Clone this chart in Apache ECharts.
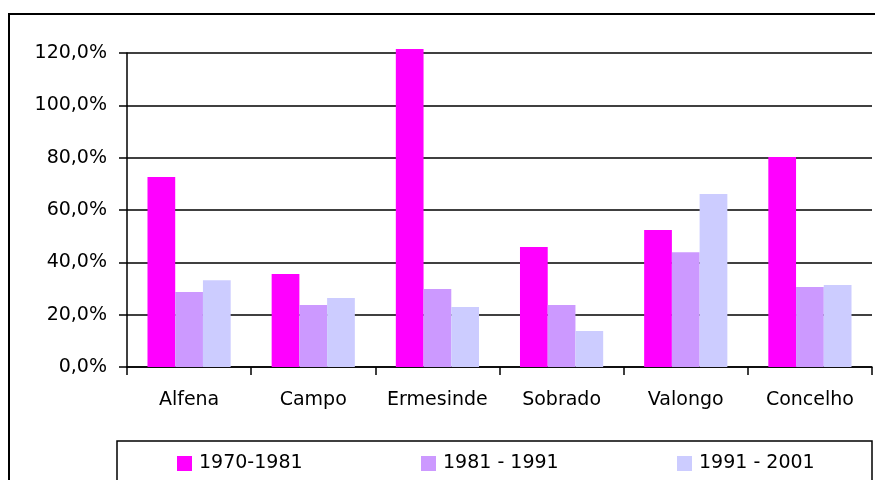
<!DOCTYPE html>
<html>
<head>
<meta charset="utf-8">
<script src="https://cdn.jsdelivr.net/npm/echarts@6/dist/echarts.min.js"></script>
<style>
html,body{margin:0;padding:0;background:#fff;}
#main{width:875px;height:480px;}
</style>
</head>
<body>
<div id="main"></div>
<script>
var categories=['Alfena','Campo','Ermesinde','Sobrado','Valongo','Concelho'];
var series_names=['1970-1981','1981 - 1991','1991 - 2001'];
var v1970_1981=[72.6,35.5,121.5,45.9,52.4,80.3];
var v1981_1991=[28.7,23.7,29.8,23.7,43.9,30.6];
var v1991_2001=[33.2,26.4,22.9,13.8,66.1,31.3];
var colors=['#FF00FF','#CC99FF','#CCCCFF'];
var y_ticks=[0,20,40,60,80,100,120];

var font='"DejaVu Sans", sans-serif';

function pct_label(v){
	return v.toFixed(1).replace('.',',')+'%';
}

var myChart=echarts.init(document.getElementById('main'));
var values=[v1970_1981,v1981_1991,v1991_2001];
var legend_pos=[177,421,677];
var option={
	animation:false,
	backgroundColor:'#fff',
	textStyle:{fontFamily:font},
	graphic:[
	{
		type:'rect',
		shape:{x:9,y:14,width:900,height:500},
		style:{fill:'none',stroke:'#000',lineWidth:2},
		silent:true
	},
	{
		type:'rect',
		shape:{x:117,y:441,width:755,height:60},
		style:{fill:'none',stroke:'#000',lineWidth:1.5},
		silent:true
	}],
	legend:[],
	grid:{left:127,right:3,top:53,bottom:113,containLabel:false},
	xAxis:[
	{
		type:'category',
		data:categories,
		boundaryGap:true,
		axisLine:{show:true,lineStyle:{color:'#000',width:1.5}},
		axisTick:{show:true,inside:false,length:8,alignWithLabel:false,lineStyle:{color:'#000',width:1.5}},
		axisLabel:{color:'#000',fontSize:19,fontFamily:font,margin:24,interval:0},
		splitLine:{show:false}
	}],
	yAxis:[
	{
		type:'value',
		min:y_ticks[0],
		max:y_ticks[y_ticks.length-1],
		interval:20,
		axisLine:{show:true,lineStyle:{color:'#000',width:1.5}},
		axisTick:{show:true,inside:false,length:8,lineStyle:{color:'#000',width:1.5}},
		axisLabel:{color:'#000',fontSize:19,fontFamily:font,margin:20,formatter:pct_label},
		splitLine:{show:true,lineStyle:{color:'#000',width:1.5}}
	}],
	series:[]
};
for(var i=0;i<series_names.length;i++){
	option.legend.push({
		data:[series_names[i]],
		left:legend_pos[i],
		top:454,
		itemWidth:15,
		itemHeight:15,
		itemGap:0,
		padding:0,
		icon:'rect',
		textStyle:{color:'#000',fontSize:19,fontFamily:font,padding:[0,0,0,2]},
		selectedMode:false
	});
	option.series.push({
		name:series_names[i],
		type:'bar',
		data:values[i],
		clip:false,
		barGap:'0%',
		barCategoryGap:'33%',
		itemStyle:{color:colors[i]}
	});
}
myChart.setOption(option);
</script>
</body>
</html>
